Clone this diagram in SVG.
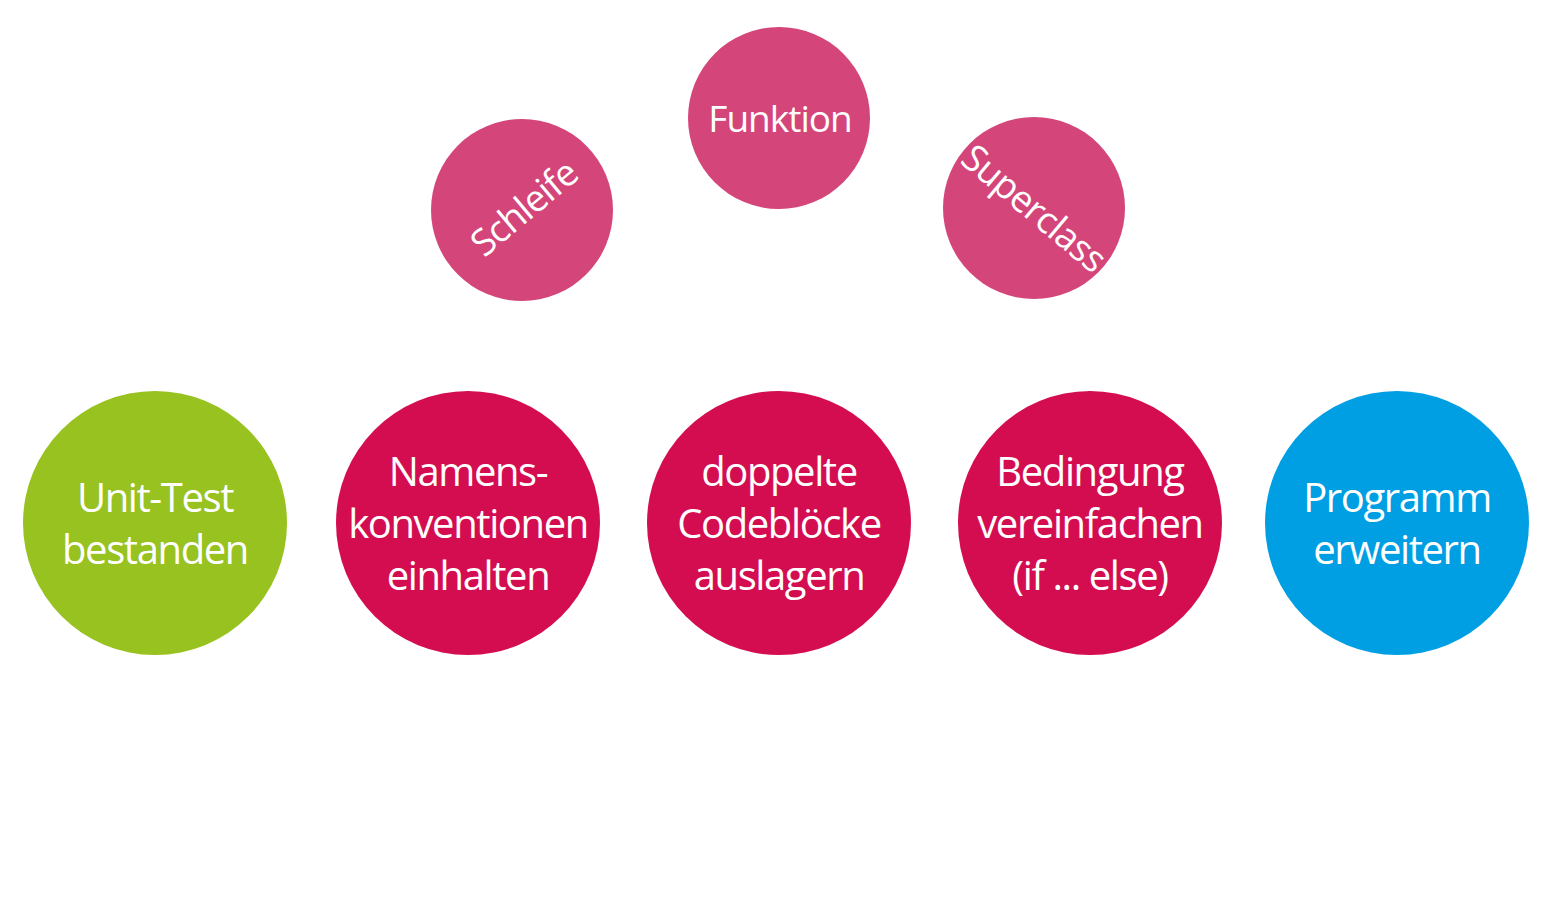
<svg xmlns="http://www.w3.org/2000/svg" width="1550" height="900" viewBox="0 0 1550 900">
<style>
.t{font-family:"Open Sans","Noto Sans",sans-serif;fill:#fff;text-anchor:middle;font-size:40px;letter-spacing:-1.4px}
.s{font-size:37px;letter-spacing:-1px}
.pink{fill:#D4457A}
.red{fill:#D40D50}
.green{fill:#97C21F}
.blue{fill:#009FE3}
</style>
<rect width="1550" height="900" fill="#fff"/>
<g id="connectors"/>
<g id="funktion"><circle class="pink" cx="779" cy="118" r="91"/><text class="t s" x="780" y="132">Funktion</text></g>
<g id="schleife"><circle class="pink" cx="522" cy="210" r="91"/><text class="t s" transform="translate(524,208) rotate(-40)" x="0" y="13">Schleife</text></g>
<g id="superclass"><circle class="pink" cx="1034" cy="208" r="91"/><text class="t s" transform="translate(1034,208) rotate(40)" x="0" y="13">Superclass</text></g>
<g id="unittest"><circle class="green" cx="155" cy="523" r="132"/><text class="t" x="155" y="512">Unit-Test</text><text class="t" x="155" y="564">bestanden</text></g>
<g id="namens"><circle class="red" cx="468" cy="523" r="132"/><text class="t" x="468" y="486">Namens-</text><text class="t" x="468" y="538">konventionen</text><text class="t" x="468" y="590">einhalten</text></g>
<g id="doppelte"><circle class="red" cx="779" cy="523" r="132"/><text class="t" x="779" y="486">doppelte</text><text class="t" x="779" y="538">Codeblöcke</text><text class="t" x="779" y="590">auslagern</text></g>
<g id="bedingung"><circle class="red" cx="1090" cy="523" r="132"/><text class="t" x="1090" y="486">Bedingung</text><text class="t" x="1090" y="538">vereinfachen</text><text class="t" x="1090" y="590">(if ... else)</text></g>
<g id="programm"><circle class="blue" cx="1397" cy="523" r="132"/><text class="t" x="1397" y="512">Programm</text><text class="t" x="1397" y="564">erweitern</text></g>
</svg>
